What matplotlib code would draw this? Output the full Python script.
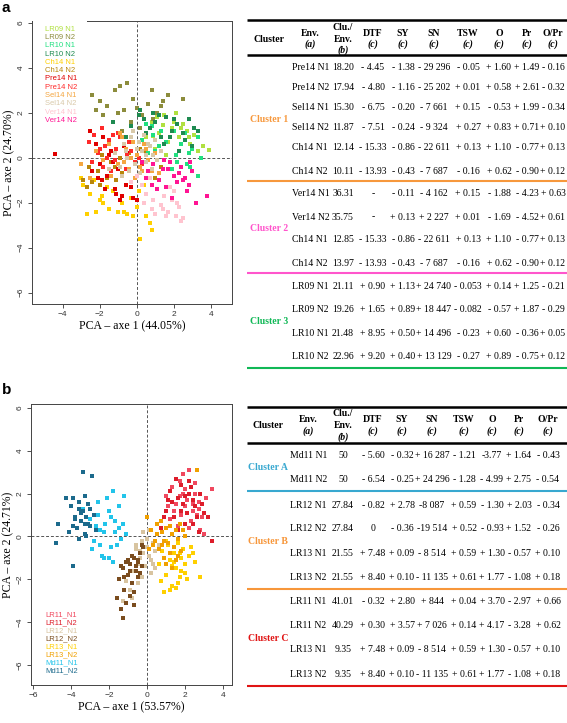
import matplotlib
matplotlib.use('Agg')
import matplotlib.pyplot as plt
from matplotlib.patches import Rectangle

# ---------------- данные: панель a (PCA) ----------------
groups_a = ['LR09 N1', 'LR09 N2', 'LR10 N1', 'LR10 N2', 'Ch14 N1', 'Ch14 N2',
            'Pre14 N1', 'Pre14 N2', 'Sel14 N1', 'Sel14 N2', 'Ver14 N1', 'Ver14 N2']
colors_a = ['#b0e040', '#8c8c3c', '#20e080', '#1e8a50', '#ffd000', '#b8860b',
            '#e00000', '#ff2a2a', '#f4a640', '#d9c9a9', '#ffc4cf', '#ff1493']
x_a = [
    [0.2, 0.5, 0.8, 1.0, 1.2, 1.5, 1.7, 1.9, 2.1, 2.3, 2.5, 2.7, 2.9, 3.1, 3.3, 3.6, 3.9, 0.6, 1.1, 1.6, 2.0, 2.4, 2.8, 0.9, 1.4],
    [-2.4, -2.0, -1.6, -1.2, -0.9, -0.7, -0.5, -0.2, 0.0, 0.3, 0.6, 0.8, 1.1, 1.4, 1.7, 2.5, -1.8, -1.0, -0.3, 0.2, 0.9, -2.2, -0.8, 0.5, 1.3],
    [0.3, 0.6, 0.9, 1.2, 1.5, 1.8, 2.1, 2.4, 2.7, 3.0, 3.3, 3.5, 0.8, 1.3, 1.9, 2.6, 2.9, 3.1, 1.0, 1.6, 2.2, 2.8, 0.5, 3.3, 2.0],
    [-0.3, 0.1, 0.4, 0.7, 1.0, 1.3, 1.6, 1.9, 2.2, 2.5, 2.8, 3.1, 3.3, -0.6, 0.2, 0.9, 1.5, 2.0, 2.6, 3.0, 0.5, 1.2, 2.3, -1.3, 1.8],
    [-3.0, -2.7, -2.5, -2.2, -2.0, -1.8, -1.5, -1.3, -1.0, -0.8, -0.5, -0.3, 0.0, 0.2, 0.5, 0.8, -2.9, -2.3, -1.6, -0.7, 0.1, 0.7, -1.9, -0.2, 0.4],
    [-2.9, -2.6, -2.4, -2.1, -1.9, -1.6, -1.4, -1.1, -0.9, -0.6, -0.4, -0.1, 0.2, 0.5, 0.8, 1.0, -2.7, -2.0, -1.2, -0.3, 0.4, -1.7, -0.8, 0.6, 1.3],
    [-2.5, -2.2, -2.0, -1.8, -1.6, -1.4, -1.2, -1.0, -0.8, -0.6, -0.4, -0.2, 0.0, -2.4, -1.9, -1.5, -1.1, -0.7, -0.3, -2.1, -1.3, -0.9, -0.5, -1.7, -4.4],
    [-2.6, -2.3, -2.1, -1.9, -1.7, -1.5, -1.3, -1.1, -0.9, -0.7, -0.5, -0.3, -0.1, 0.1, -2.4, -1.8, -1.2, -0.8, -0.4, 0.3, -2.0, -1.4, -0.6, -1.6, -1.0],
    [-3.0, -2.2, -1.8, -1.5, -1.2, -1.0, -0.8, -0.6, -0.4, -0.2, 0.0, 0.2, 0.4, 0.6, 0.8, 1.0, -1.4, -0.7, -0.1, 0.5, -0.9, 0.3, -2.5, 1.2, -0.3],
    [-1.2, -0.9, -0.7, -0.5, -0.3, -0.1, 0.1, 0.3, 0.5, 0.7, 0.9, 1.1, -0.8, -0.4, 0.0, 0.4, 0.8, -0.6, 0.2, 0.6, 1.3, -1.5, -0.2, 0.5, 1.0],
    [0.0, 0.3, 0.5, 0.7, 0.9, 1.1, 1.3, 1.5, 1.7, 1.9, 2.1, 2.3, 2.5, 0.4, 0.8, 1.2, 1.6, 2.0, 2.4, -0.3, 1.0, 1.8, 2.2, 0.6, 1.4],
    [0.3, 0.6, 0.9, 1.2, 1.4, 1.6, 1.8, 2.0, 2.2, 2.4, 2.6, 2.8, 3.0, 3.2, 3.8, 1.1, 1.5, 1.9, 2.3, 2.7, 0.8, 1.7, 2.5, 2.9, 0.5],
]
y_a = [
    [1.3, 0.9, 1.6, 0.4, 1.1, 1.9, 0.7, 1.3, 2.0, 0.9, 1.5, 1.2, 0.6, 1.0, 0.3, 0.5, 0.35, 0.2, 1.8, 0.1, 1.6, 1.3, 0.9, 0.95, 1.45],
    [2.8, 2.5, 2.3, 3.0, 3.2, 2.1, 3.3, 2.6, 2.2, 1.9, 2.4, 3.0, 2.0, 2.5, 2.8, 2.6, 1.9, 2.0, 1.6, 1.3, 1.7, 2.1, 1.2, 1.5, 2.3],
    [0.8, 0.2, 1.0, 0.5, -0.1, 0.9, 0.1, 0.6, -0.3, 0.4, -0.8, 0.0, 1.4, 1.2, -0.5, 1.1, -0.4, 1.3, 0.3, 0.7, -0.2, 0.2, 1.5, 0.9, 1.2],
    [1.4, 1.9, 1.7, 1.3, 1.6, 0.9, 1.8, 1.2, 1.5, 1.1, 1.7, 1.3, 1.2, 0.9, 2.1, 2.0, 0.6, 1.7, 0.8, 0.5, 1.1, 1.9, 0.3, 1.6, 0.9],
    [-0.9, -2.5, -1.6, -2.4, -1.9, -2.0, -2.3, -1.5, -2.4, -2.0, -2.5, -1.8, -2.2, -3.6, -2.6, -3.2, -1.2, -1.0, -1.3, -2.4, -1.5, -2.9, -1.7, -2.6, -1.2],
    [-1.0, -0.4, -1.1, -0.6, 0.1, -0.9, -0.2, -1.0, 0.0, -0.5, 0.2, -0.3, 0.4, -0.2, -0.5, -0.9, -1.3, -1.2, -0.4, -1.1, 0.3, 0.5, -0.7, -0.6, -0.4],
    [1.2, 0.6, -0.3, 0.9, -0.8, 0.3, -1.4, -0.5, -1.7, -1.2, -0.6, -1.8, -1.9, -0.6, -1.0, 0.1, -1.6, 0.5, -1.3, -0.9, -0.2, -1.9, 0.2, -1.4, 0.15],
    [0.7, 1.0, 0.2, 1.3, 0.5, 0.8, 1.0, 0.4, 0.9, 0.6, 0.1, 0.3, -0.2, 0.0, -0.2, -0.4, -0.1, -0.8, 0.7, -0.3, 0.4, -0.6, -0.5, 0.0, 1.1],
    [-0.3, 0.3, -0.1, 0.6, 0.2, -0.3, 0.9, 0.4, -0.5, 0.7, 0.1, -0.4, 0.6, -0.1, -0.6, 0.2, -0.8, -0.2, -0.9, 0.4, 1.1, -0.6, -0.9, -0.7, 0.0],
    [0.2, -0.4, 0.6, 0.0, 0.9, -0.3, 0.7, 0.3, -0.2, 0.5, 0.1, -0.1, -0.8, -0.6, 0.4, 1.0, -0.5, 0.3, -0.7, 0.6, 0.3, -0.5, 1.2, 0.1, 0.8],
    [-0.8, -1.2, -1.6, -0.9, -1.9, -1.4, -2.1, -1.7, -2.4, -1.9, -2.6, -2.2, -2.7, -2.0, -2.3, -1.0, -2.6, -1.5, -2.8, -1.1, -2.5, -1.3, -2.0, -0.6, -2.3],
    [-0.2, -0.6, -0.3, -1.0, -0.5, -1.3, -0.2, -0.8, -1.1, -0.4, -0.9, -1.2, -0.6, -2.0, -1.7, -1.4, -0.1, -1.8, -0.7, -1.5, -1.2, -0.5, -1.0, -0.2, -0.9],
]

# ---------------- данные: панель b (PCA) ----------------
groups_b = ['LR11_N1', 'LR11_N2', 'LR12_N1', 'LR12_N2', 'LR13_N1', 'LR13_N2', 'Md11_N1', 'Md11_N2']
colors_b = ['#f0485e', '#dd1c2a', '#d8c4a0', '#7a4c1e', '#ffd000', '#f0a000', '#22c4ea', '#1c6a8c']
x_b = [
    [1.0, 1.3, 1.5, 1.7, 1.8, 2.0, 2.1, 2.2, 2.4, 2.5, 2.7, 2.9, 3.1, 3.4, 1.2, 1.6, 1.9, 2.3, 2.6, 2.8, 1.4, 2.0, 2.5, 3.0, 1.1, 1.7, 2.2, 2.4, 1.9, 2.7],
    [0.7, 1.0, 1.2, 1.4, 1.6, 1.8, 2.0, 2.2, 2.4, 2.6, 2.8, 3.0, 3.4, 1.5, 1.9, 2.3, 2.7, 1.3, 2.1, 2.5, 0.9, 1.7, 2.2, 2.9, 1.1, 1.8, 2.4, 3.2, 2.0, 1.6],
    [-1.0, -0.8, -0.6, -0.5, -0.3, -0.2, 0.0, 0.1, 0.2, 0.3, 0.4, 0.5, -0.7, -0.4, -0.1, 0.2, -0.9, -0.5, 0.0, 0.3, -0.2, 0.1, -0.6, -1.3, -0.3, 0.6, -0.8, 0.4, -0.4, -1.1],
    [-1.6, -1.4, -1.3, -1.2, -1.1, -1.0, -0.9, -0.8, -0.7, -0.6, -0.5, -0.4, -0.3, -0.2, -1.5, -1.3, -1.1, -0.9, -0.7, -0.5, -0.8, -0.6, -1.0, -0.4, -1.2, -0.7, -0.3, -1.4, -0.9, -0.5],
    [0.6, 0.8, 1.0, 1.1, 1.2, 1.3, 1.4, 1.5, 1.6, 1.7, 1.8, 1.9, 2.0, 2.1, 2.3, 2.5, 2.8, 0.9, 1.2, 1.5, 1.8, 2.2, 1.0, 1.4, 1.7, 2.0, 0.7, 1.6, 1.3, 2.4],
    [0.0, 0.2, 0.4, 0.5, 0.6, 0.8, 0.9, 1.0, 1.1, 1.2, 1.3, 1.4, 1.5, 1.6, 1.7, 1.8, 2.0, 0.3, 0.7, 1.0, 1.3, 1.6, 0.5, 1.2, 1.9, 0.1, 0.9, 1.5, 2.6, 0.8],
    [-3.4, -3.0, -2.8, -2.6, -2.5, -2.3, -2.2, -2.0, -1.9, -1.8, -1.7, -1.5, -1.4, -1.3, -1.2, -1.1, -2.9, -2.4, -2.1, -1.6, -2.7, -2.0, -1.5, -3.2, -2.6, -1.9, -2.3, -1.7, -1.8, -2.5],
    [-4.7, -4.3, -4.1, -4.0, -3.9, -3.8, -3.7, -3.6, -3.5, -3.4, -3.3, -3.2, -3.1, -3.0, -2.9, -2.8, -3.9, -3.6, -3.3, -3.0, -3.5, -3.2, -3.8, -3.4, -2.7, -4.8, -3.6, -3.1, -3.3, -3.9],
]
y_b = [
    [1.9, 2.3, 1.5, 2.6, 1.0, 2.2, 1.7, 3.1, 1.2, 2.5, 1.6, 0.9, 1.8, 2.2, 0.8, 0.5, 2.9, 0.7, 1.0, 0.3, 1.2, 1.4, 2.0, 0.1, 1.4, 1.9, 0.4, 1.5, 2.0, 1.3],
    [0.4, 1.2, 2.1, 0.9, 1.8, 2.4, 0.6, 2.0, 1.7, 0.9, 2.0, 1.1, -0.2, 2.7, 1.5, 2.3, 0.2, 1.6, 1.1, 1.4, 0.9, 0.6, 2.6, 1.5, 1.7, 1.2, 0.6, 0.9, 1.9, 0.3],
    [-1.8, -0.9, -0.4, -1.3, -0.2, -0.8, -0.5, 0.3, -1.1, -0.3, -0.7, 0.1, -1.6, -1.0, -1.4, -1.7, -2.5, -2.2, -0.1, -1.3, 0.2, -0.9, -0.6, -3.0, -1.9, -0.4, -2.9, -1.5, -0.7, -2.1],
    [-2.9, -3.4, -1.5, -2.5, -1.2, -1.8, -1.3, -2.2, -1.0, -1.6, -1.2, -0.8, -1.4, -0.5, -2.0, -3.8, -3.1, -1.6, -2.6, -1.9, -0.9, -1.4, -1.1, -1.7, -1.9, -3.2, -0.4, -1.4, -2.8, -1.1],
    [-1.3, -0.7, -1.8, -0.4, -1.1, -2.3, -0.8, -1.5, -0.3, -1.9, -1.0, -0.6, -1.3, -2.0, -0.5, -1.2, -1.9, -2.6, -2.5, -2.4, -1.6, -0.9, -0.2, -1.2, -0.8, -1.7, -2.1, -2.2, -1.4, -0.8],
    [0.9, 0.3, -0.2, 0.6, -0.6, 0.2, -1.0, 0.4, -0.3, -0.8, 0.1, -0.5, 0.3, -0.1, 0.6, -0.7, 0.0, -0.4, 0.7, -1.3, -1.5, -0.9, 0.1, 0.5, 0.3, -0.6, -0.2, -1.1, 3.1, -0.4],
    [1.3, 0.8, -0.2, 1.6, 0.3, -1.0, 0.6, 1.2, -0.5, 2.1, 0.2, 1.4, -0.1, 0.6, 1.9, 0.1, -0.6, -0.9, 1.8, -0.4, 0.5, -1.0, 0.4, 0.0, 1.0, 0.9, 0.2, 0.7, -1.2, -0.4],
    [0.6, 1.8, 0.2, 1.4, -1.4, 0.9, 0.4, 1.6, 0.7, 1.2, 0.1, 0.9, 1.5, 0.5, 2.8, 1.0, 1.8, -0.1, 0.6, 1.3, 1.1, 0.0, 0.8, 3.0, 0.3, -0.3, 1.3, 0.6, 1.9, 0.5],
]

# ---------------- данные: таблицы ----------------
header = ['Cluster', 'Env.', 'Clu./\nEnv.', 'DTF', 'SY', 'SN', 'TSW', 'O', 'Pr', 'O/Pr']
header_sub = ['', '(a)', '(b)', '(c)', '(c)', '(c)', '(c)', '(c)', '(c)', '(c)']

rows_a = [
    ['Pre14 N1', '18.20', '- 4.45', '- 1.38', '- 29 296', '- 0.05', '+ 1.60', '+ 1.49', '- 0.16'],
    ['Pre14 N2', '17.94', '- 4.80', '- 1.16', '- 25 202', '+ 0.01', '+ 0.58', '+ 2.61', '- 0.32'],
    ['Sel14 N1', '15.30', '- 6.75', '- 0.20', '- 7 661', '+ 0.15', '- 0.53', '+ 1.99', '- 0.34'],
    ['Sel14 N2', '11.87', '- 7.51', '- 0.24', '- 9 324', '+ 0.27', '+ 0.83', '+ 0.71', '+ 0.10'],
    ['Ch14 N1', '12.14', '- 15.33', '- 0.86', '- 22 611', '+ 0.13', '+ 1.10', '- 0.77', '+ 0.13'],
    ['Ch14 N2', '10.11', '- 13.93', '- 0.43', '- 7 687', '- 0.16', '+ 0.62', '- 0.90', '+ 0.12'],
    ['Ver14 N1', '36.31', '-', '- 0.11', '- 4 162', '+ 0.15', '- 1.88', '- 4.23', '+ 0.63'],
    ['Ver14 N2', '35.75', '-', '+ 0.13', '+ 2 227', '+ 0.01', '- 1.69', '- 4.52', '+ 0.61'],
    ['Ch14 N1', '12.85', '- 15.33', '- 0.86', '- 22 611', '+ 0.13', '+ 1.10', '- 0.77', '+ 0.13'],
    ['Ch14 N2', '13.97', '- 13.93', '- 0.43', '- 7 687', '- 0.16', '+ 0.62', '- 0.90', '+ 0.12'],
    ['LR09 N1', '21.11', '+ 0.90', '+ 1.13', '+ 24 740', '- 0.053', '+ 0.14', '+ 1.25', '- 0.21'],
    ['LR09 N2', '19.26', '+ 1.65', '+ 0.89', '+ 18 447', '- 0.082', '- 0.57', '+ 1.87', '- 0.29'],
    ['LR10 N1', '21.48', '+ 8.95', '+ 0.50', '+ 14 496', '- 0.23', '+ 0.60', '- 0.36', '+ 0.05'],
    ['LR10 N2', '22.96', '+ 9.20', '+ 0.40', '+ 13 129', '- 0.27', '+ 0.89', '- 0.75', '+ 0.12'],
]
clusters_a = ['Cluster 1', 'Cluster 2', 'Cluster 3']
cluster_rows_a = [6, 4, 4]
cluster_colors_a = ['#f7983c', '#ff55cc', '#10b856']

rows_b = [
    ['Md11 N1', '50', '- 5.60', '- 0.32', '+ 16 287', '- 1.21', '-3.77', '+ 1.64', '- 0.43'],
    ['Md11 N2', '50', '- 6.54', '- 0.25', '+ 24 296', '- 1.28', '- 4.99', '+ 2.75', '- 0.54'],
    ['LR12 N1', '27.84', '- 0.82', '+ 2.78', '-8 087', '+ 0.59', '- 1.30', '+ 2.03', '- 0.34'],
    ['LR12 N2', '27.84', '0', '- 0.36', '-19 514', '+ 0.52', '- 0.93', '+ 1.52', '- 0.26'],
    ['LR13 N1', '21.55', '+ 7.48', '+ 0.09', '- 8 514', '+ 0.59', '+ 1.30', '- 0.57', '+ 0.10'],
    ['LR13 N2', '21.55', '+ 8.40', '+ 0.10', '- 11 135', '+ 0.61', '+ 1.77', '- 1.08', '+ 0.18'],
    ['LR11 N1', '41.01', '- 0.32', '+ 2.80', '+ 844', '+ 0.04', '+ 3.70', '- 2.97', '+ 0.66'],
    ['LR11 N2', '40.29', '+ 0.30', '+ 3.57', '+ 7 026', '+ 0.14', '+ 4.17', '- 3.28', '+ 0.62'],
    ['LR13 N1', '9.35', '+ 7.48', '+ 0.09', '- 8 514', '+ 0.59', '+ 1.30', '- 0.57', '+ 0.10'],
    ['LR13 N2', '9.35', '+ 8.40', '+ 0.10', '- 11 135', '+ 0.61', '+ 1.77', '- 1.08', '+ 0.18'],
]
clusters_b = ['Cluster A', 'Cluster B', 'Cluster C']
cluster_rows_b = [2, 4, 4]
cluster_colors_b = ['#38a8d0', '#f7963a', '#e01414']

SERIF = 'Liberation Serif'
SANS = 'Liberation Sans'

fig = plt.figure(figsize=(5.67, 7.23), dpi=100)


def pca_panel(rect, xs, ys, colors, xlim, ylim, xticks, xlabel, ylabel):
    ax = fig.add_axes(rect)
    for gx, gy, c in zip(xs, ys, colors):
        ax.scatter(gx, gy, s=6.5, color=c, marker='s', linewidths=0, zorder=2)
    ax.axhline(0, color='#555555', ls=(0, (3, 2)), lw=0.7, zorder=1)
    ax.axvline(0, color='#555555', ls=(0, (3, 2)), lw=0.7, zorder=1)
    ax.set_xlim(*xlim)
    ax.set_ylim(*ylim)
    ax.set_xticks(xticks)
    ax.set_yticks([-6, -4, -2, 0, 2, 4, 6])
    ax.tick_params(labelsize=6, length=3, width=0.6, colors='#333333', pad=2)
    for lab in ax.get_xticklabels() + ax.get_yticklabels():
        lab.set_fontfamily(SANS)
    for lab in ax.get_yticklabels():
        lab.set_rotation(90)
        lab.set_va('center')
    for sp in ax.spines.values():
        sp.set_linewidth(0.7)
        sp.set_color('#444444')
    ax.set_xlabel(xlabel, family=SERIF, fontsize=8.5, labelpad=2)
    ax.set_ylabel(ylabel, family=SERIF, fontsize=8.5, labelpad=2)
    return ax


ax_a = pca_panel([32 / 567, 1 - 304 / 723, 200 / 567, 283 / 723], x_a, y_a, colors_a,
                 (-5.66, 5.15), (-6.5, 6.07), [-4, -2, 0, 2, 4],
                 'PCA – axe 1 (44.05%)', 'PCA – axe 2 (24.70%)')
# белый фон под легендой (закрывает часть рамки, как в оригинале)
ax_a.add_patch(Rectangle((0.004, 0.64), 0.27, 0.38, transform=ax_a.transAxes,
                         facecolor='white', edgecolor='none', clip_on=False, zorder=3))
for i, (g, c) in enumerate(zip(groups_a, colors_a)):
    ax_a.text(0.065, 0.971 - i * 0.0293, g, transform=ax_a.transAxes, color=c,
              family=SANS, fontsize=5.5, va='center', zorder=4)

ax_b = pca_panel([31 / 567, 1 - 685 / 723, 201 / 567, 281 / 723], x_b, y_b, colors_b,
                 (-6.12, 4.46), (-6.94, 6.18), [-6, -4, -2, 0, 2, 4],
                 'PCA – axe 1 (53.57%)', 'PCA – axe 2 (24.71%)')
for i, (g, c) in enumerate(zip(groups_b, colors_b)):
    ax_b.text(0.07, 0.249 - i * 0.0285, g, transform=ax_b.transAxes, color=c,
              family=SANS, fontsize=5.5, va='center', zorder=4)

fig.text(2 / 567, 1 - 8 / 723, 'a', fontsize=11, fontweight='bold', family=SANS, va='center')
fig.text(2 / 567, 1 - 390 / 723, 'b', fontsize=11, fontweight='bold', family=SANS, va='center')

# ---------------- таблицы (координаты в пикселях) ----------------
tab = fig.add_axes([0, 0, 1, 1])
tab.set_xlim(0, 567)
tab.set_ylim(723, 0)
tab.set_axis_off()
tab.patch.set_alpha(0)


def draw_table(y_top, y_head, col_x, env_left, row_y, rows, clusters, cl_rows, cl_colors, sep_y):
    x0, x1 = 246.5, 567
    tab.plot([x0, x1], [y_top, y_top], color='black', lw=1.8, solid_capstyle='butt')
    tab.plot([x0, x1], [y_head, y_head], color='black', lw=1.8, solid_capstyle='butt')
    for j, (h, sub) in enumerate(zip(header, header_sub)):
        if j == 0:
            tab.text(col_x[j], y_top + 19, h, ha='center', va='center', family=SERIF,
                     fontsize=7, fontweight='bold')
        elif j == 2:
            tab.text(col_x[j], y_top + 7, 'Clu./', ha='center', va='center', family=SERIF,
                     fontsize=7, fontweight='bold')
            tab.text(col_x[j], y_top + 19, 'Env.', ha='center', va='center', family=SERIF,
                     fontsize=7, fontweight='bold')
            tab.text(col_x[j], y_top + 30, sub, ha='center', va='center', family=SERIF,
                     fontsize=7, fontweight='bold', style='italic')
        else:
            tab.text(col_x[j], y_top + 13, h, ha='center', va='center', family=SERIF,
                     fontsize=7, fontweight='bold')
            tab.text(col_x[j], y_top + 24, sub, ha='center', va='center', family=SERIF,
                     fontsize=7, fontweight='bold', style='italic')
    for r, (yy, row) in enumerate(zip(row_y, rows)):
        tab.text(env_left, yy, row[0], ha='left', va='center', family=SERIF, fontsize=7)
        for j, v in enumerate(row[1:]):
            tab.text(col_x[j + 2], yy, v, ha='center', va='center', family=SERIF, fontsize=7)
    start = 0
    for name, n, c, sy in zip(clusters, cl_rows, cl_colors, sep_y):
        ys = row_y[start:start + n]
        tab.text(col_x[0], (ys[0] + ys[-1]) / 2, name, ha='center', va='center',
                 family=SERIF, fontsize=7, fontweight='bold', color=c)
        tab.plot([x0, x1], [sy, sy], color=c, lw=1.5, solid_capstyle='butt')
        start += n


draw_table(20, 55, [269, 310, 343, 373, 403, 434, 468, 499, 527, 553], 292.5,
           [67.7, 88, 108, 128, 148, 171, 194, 217, 240, 263, 286.5, 310, 333.5, 356.7],
           rows_a, clusters_a, cluster_rows_a, cluster_colors_a, [180.7, 273.3, 368.3])

draw_table(406.7, 442.7, [268, 308, 343, 373, 402, 432, 464, 492, 519, 548], 290.5,
           [455, 480, 505, 528.5, 553, 577.7, 601.7, 626, 650, 674.7],
           rows_b, clusters_b, cluster_rows_b, cluster_colors_b, [490.7, 589, 685.7])

plt.savefig('out.png', dpi=100)
